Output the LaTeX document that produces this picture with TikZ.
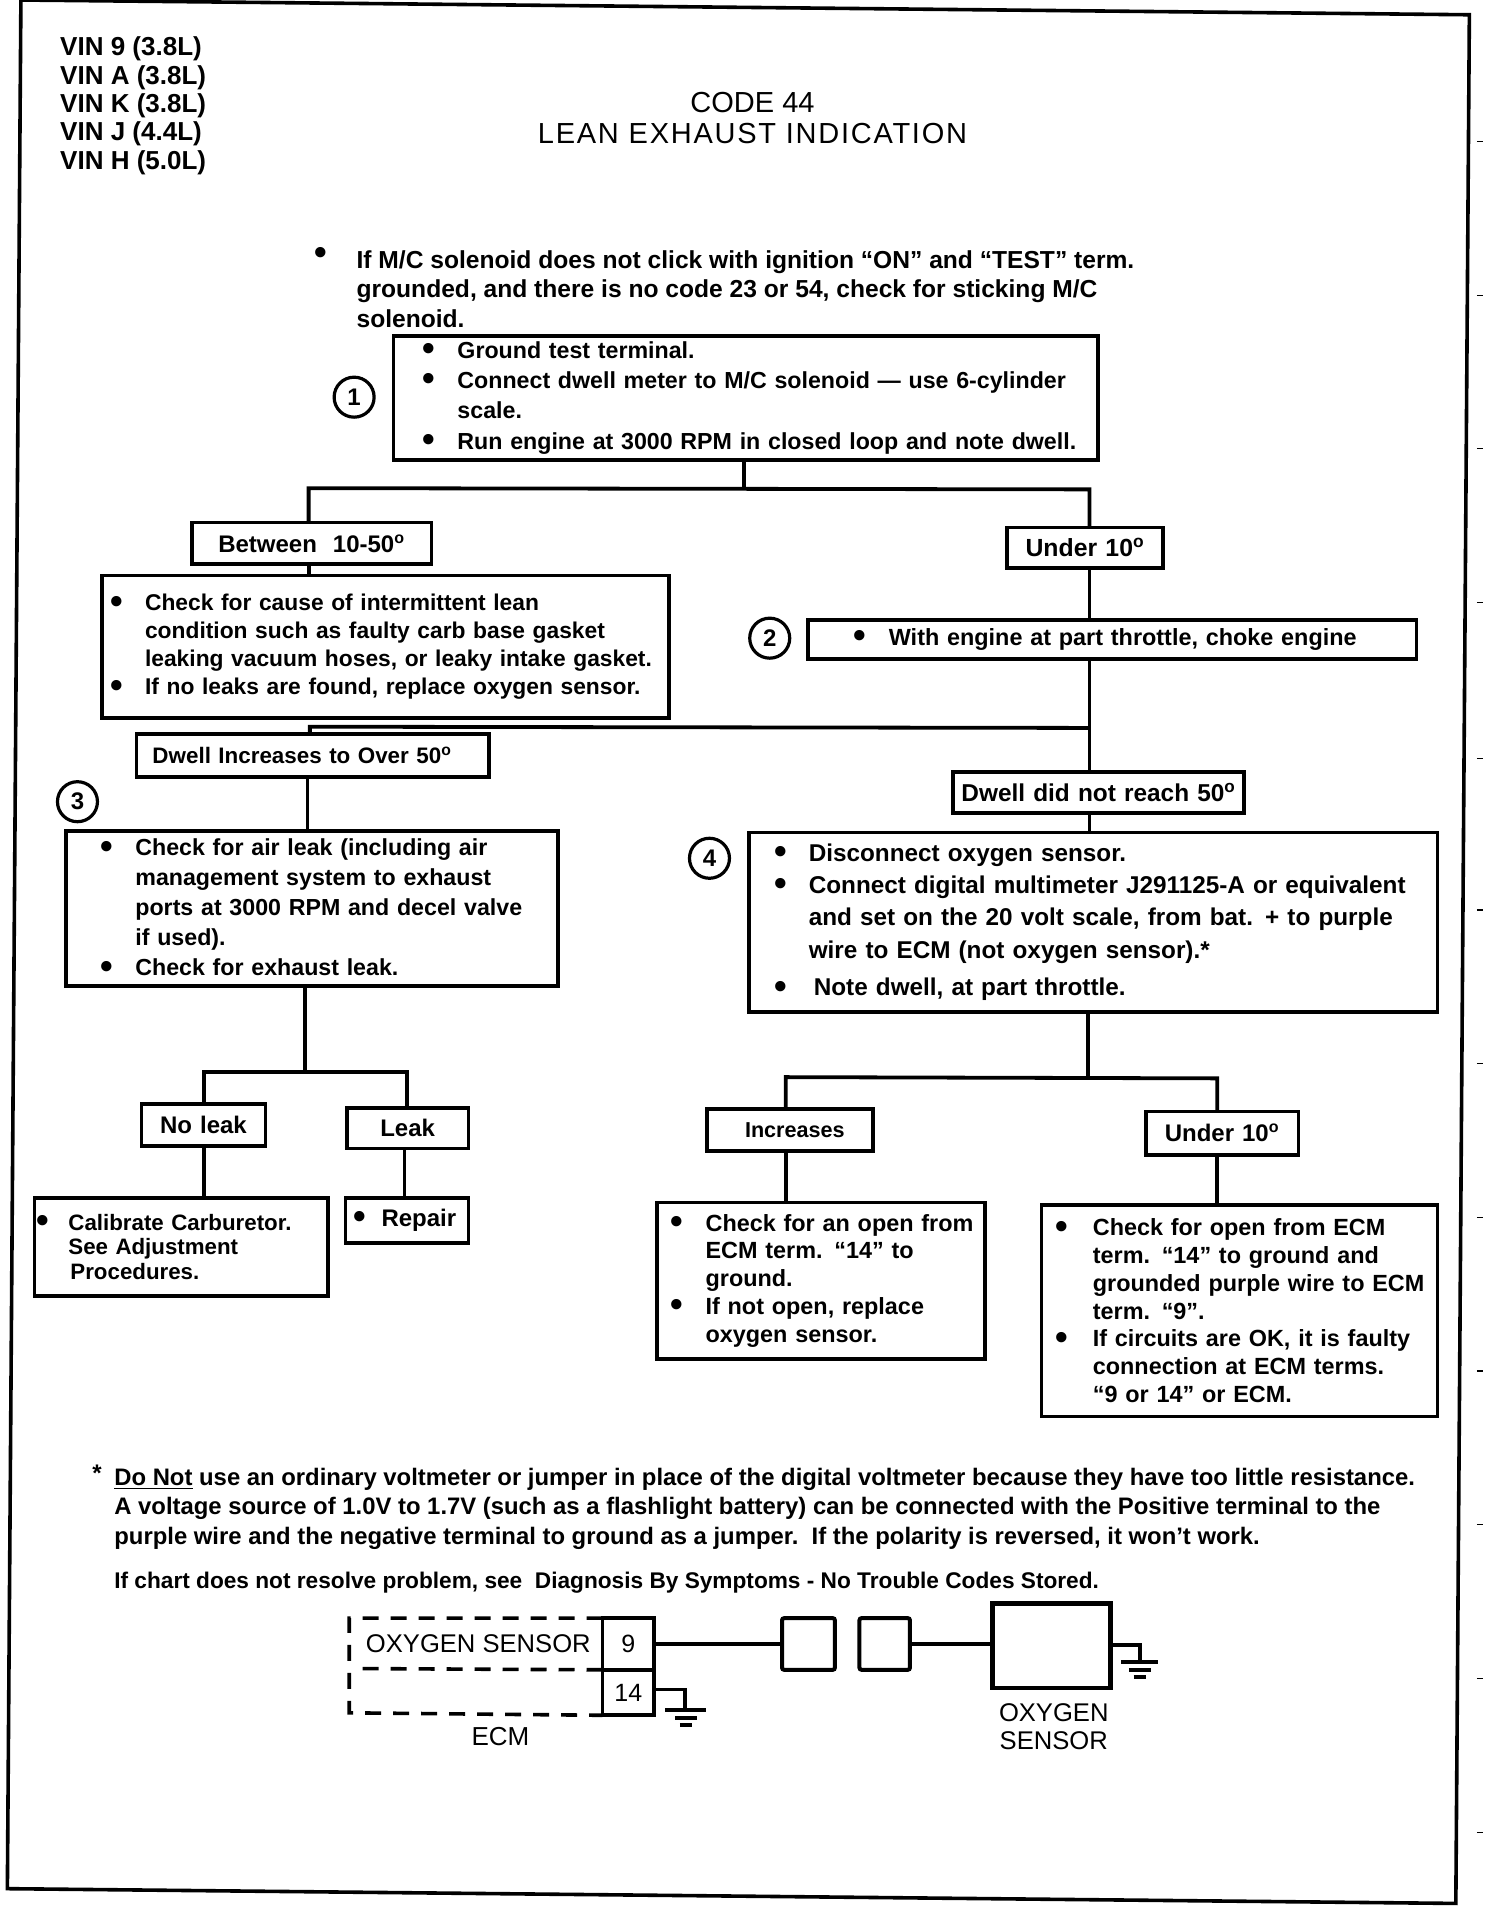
\documentclass[tikz,border=0pt]{standalone}
\usepackage{fontspec}
\setmainfont{Liberation Sans}
\newfontfamily\bodyf{Liberation Sans Bold}
\newcommand{\fs}[2]{\fontsize{#1}{#2}\selectfont}
\newcommand{\bul}{{\fontsize{18}{15}\selectfont\textbullet}}
\newcommand{\Bu}[3]{\makebox[0pt][l]{\hspace*{#1pt}\raisebox{-1.2pt}{\bul}}\makebox[0pt][l]{\hspace*{#1pt}\hspace*{#2pt}#3}}
\newcommand{\Tx}[3]{\makebox[0pt][l]{\hspace*{#1pt}\hspace*{#2pt}#3}}
\newcommand{\dg}{\textsuperscript{o}}
\tikzset{
 flowbox/.style={draw=black,line width=1.9pt,inner sep=0pt,outer sep=0pt,align=left,font=\bodyf\fs{12}{15}},
 lab/.style={flowbox,align=center},
 wire/.style={draw=black,line width=1.9pt},
 gnd/.style={draw=black,line width=2pt},
 dashw/.style={draw=black,line width=1.8pt,dash pattern=on 8pt off 6pt},
 num/.style={circle,draw=black,line width=1.6pt,minimum size=20pt,inner sep=0pt,font=\bodyf\fs{12}{12}},
 freetext/.style={inner sep=0pt,outer sep=0pt,anchor=west,align=left},
 tick/.style={draw=black,line width=0.6pt},
 frameline/.style={draw=black,line width=1.8pt},
 plug/.style={draw=black,line width=2pt,rounded corners=1pt,inner sep=0pt,outer sep=0pt}
}
\newcommand{\Bx}[7]{%
 \pgfmathsetmacro\cx{(#2+#4)/2}\pgfmathsetmacro\cy{(#3+#5)/2}%
 \pgfmathsetmacro\ww{(#4-#2)*0.6148}\pgfmathsetmacro\hh{(#5-#3)*0.6148}%
 \node[#6,minimum width=\ww pt,minimum height=\hh pt,text width=\ww pt] (#1) at (\cx,\cy) {#7};}
\begin{document}
\begin{tikzpicture}[x=0.6148pt,y=-0.6148pt]
\useasboundingbox (0,0) rectangle (1223,1568);
% page frame
\coordinate (fa) at (17,0);\coordinate (fb) at (1195,12);\coordinate (fc) at (1184,1548);\coordinate (fd) at (6,1536);
\path[frameline] (fa) -- (fb) -- (fc) -- (fd) -- cycle;
\foreach \yy in {115,240,365,490,617,740,865,990,1115,1240,1365,1490}{\path[tick] (1201,\yy) -- (1206,\yy);}
% header
\node[freetext,font=\bodyf\fs{13}{14.2}] (vin) at (49,86) {VIN 9 (3.8L)\\VIN A (3.8L)\\VIN K (3.8L)\\VIN J (4.4L)\\VIN H (5.0L)};
\node[inner sep=0pt,align=center,font=\fs{14.5}{15.6}] (title) at (612,96) {CODE 44\\\addfontfeature{LetterSpace=6}LEAN EXHAUST INDICATION};
\node[freetext,font=\bodyf\fs{12.3}{14.8}] (intro) at (290,235) {If M/C solenoid does not click with ignition “ON” and “TEST” term.\\grounded, and there is no code 23 or 54, check for sticking M/C\\solenoid.};
\node[inner sep=0pt,font=\bodyf\fs{18}{15}] (introb) at (261,208) {\textbullet};
% boxes
\Bx{b1}{320}{273}{893}{374}{flowbox,font=\bodyf\fs{11.6}{15.2}}{\Bu{14.5}{17.5}{Ground test terminal.}\\\Bu{14.5}{17.5}{Connect dwell meter to M/C solenoid — use 6-cylinder}\\\Tx{14.5}{17.5}{scale.}\\\Bu{14.5}{17.5}{Run engine at 3000 RPM in closed loop and note dwell.}}
\node[num] (n1) at (288,323) {1};
\Bx{between}{156}{425}{351}{459}{lab}{Between\ \ 10-50\dg}
\Bx{under}{819}{429}{946}{462}{lab,font=\bodyf\fs{12.4}{15}}{Under 10\dg}
\Bx{b2}{83}{468}{544}{584}{flowbox,font=\bodyf\fs{11.4}{14}}{\Bu{4}{17.5}{Check for cause of intermittent lean}\\\Tx{4}{17.5}{condition such as faulty carb base gasket}\\\Tx{4}{17.5}{leaking vacuum hoses, or leaky intake gasket.}\\\Bu{4}{17.5}{If no leaks are found, replace oxygen sensor.}}
\Bx{b3}{657}{504}{1152}{536}{flowbox,font=\bodyf\fs{11.7}{15}}{\Bu{23}{17.5}{With engine at part throttle, choke engine}}
\node[num] (n2) at (626,519) {2};
\Bx{incr}{111}{597}{398}{632}{flowbox,font=\bodyf\fs{11.2}{15}}{\Tx{0}{8}{Dwell Increases to Over 50\dg}}
\Bx{notr}{775}{628}{1012}{661}{lab,font=\bodyf\fs{12.2}{15}}{Dwell did not reach 50\dg}
\node[num] (n3) at (63,652) {3};
\Bx{b4}{54}{676}{454}{802}{flowbox,font=\bodyf\fs{11.6}{15}}{\Bu{17}{17.5}{Check for air leak (including air}\\\Tx{17}{17.5}{management system to exhaust}\\\Tx{17}{17.5}{ports at 3000 RPM and decel valve}\\\Tx{17}{17.5}{if used).}\\\Bu{17}{17.5}{Check for exhaust leak.}}
\node[num] (n4) at (577,698) {4};
\Bx{b5}{609}{677}{1169}{823}{flowbox,font=\bodyf\fs{12.15}{16.2}}{\Bu{13}{17}{Disconnect oxygen sensor.}\\\Bu{13}{17}{Connect digital multimeter J291125-A or equivalent}\\\Tx{13}{17}{and set on the 20 volt scale, from bat. + to purple}\\\Tx{13}{17}{wire to ECM (not oxygen sensor).*}\\[2.5pt]\Bu{13}{19.5}{Note dwell, at part throttle.}}
\Bx{noleak}{115}{898}{216}{932}{lab}{No leak}
\Bx{leak}{282}{901}{381}{934}{lab}{Leak}
\Bx{calib}{28}{974}{267}{1054}{flowbox,font=\bodyf\fs{11.15}{12.3}}{\Bu{1}{16}{Calibrate Carburetor.}\\\Tx{1}{16}{See Adjustment}\\\Tx{1}{17}{Procedures.}}
\Bx{repair}{281}{974}{381}{1011}{flowbox}{\Bu{4}{14}{Repair}}
\Bx{incs}{575}{902}{710}{936}{flowbox,font=\bodyf\fs{10.8}{15}}{\Tx{0}{19}{Increases}}
\Bx{und2}{932}{904}{1056}{939}{lab}{Under 10\dg}
\Bx{b6}{534}{978}{801}{1105}{flowbox,font=\bodyf\fs{11.7}{13.9}}{\Bu{7}{17.5}{Check for an open from}\\\Tx{7}{17.5}{ECM term. “14” to}\\\Tx{7}{17.5}{ground.}\\\Bu{7}{17.5}{If not open, replace}\\\Tx{7}{17.5}{oxygen sensor.}}
\Bx{b7}{847}{980}{1169}{1152}{flowbox,font=\bodyf\fs{11.7}{13.9}}{\Bu{7}{18.7}{Check for open from ECM}\\\Tx{7}{18.7}{term. “14” to ground and}\\\Tx{7}{18.7}{grounded purple wire to ECM}\\\Tx{7}{18.7}{term. “9”.}\\\Bu{7}{18.7}{If circuits are OK, it is faulty}\\\Tx{7}{18.7}{connection at ECM terms.}\\\Tx{7}{18.7}{“9 or 14” or ECM.}}
% connectors
\coordinate (j1) at (605,398);\coordinate (j1l) at (251,397);\coordinate (j1r) at (886,398);
\draw[wire] (b1.south -| j1) -- (j1);
\draw[wire] (between.north -| j1l) -- (j1l) -- (j1r) -- (under.north -| j1r);
\draw[wire] (between.south -| j1l) -- (b2.north -| j1l);
\draw[wire] (under.south -| j1r) -- (b3.north -| j1r);
\coordinate (j2) at (886,592);\coordinate (j2l) at (252,591);
\draw[wire] (b3.south -| j2) -- (notr.north -| j2);
\draw[wire] (j2) -- (j2l) -- (incr.north -| j2l);
\coordinate (j3) at (250,640);
\draw[wire] (incr.south -| j3) -- (b4.north -| j3);
\draw[wire] (notr.south -| j2) -- (b5.north -| j2);
\coordinate (j4) at (248,872);\coordinate (j4l) at (166,872);\coordinate (j4r) at (331,872);
\draw[wire] (b4.south -| j4) -- (j4);
\draw[wire] (noleak.north -| j4l) -- (j4l) -- (j4r) -- (leak.north -| j4r);
\draw[wire] (noleak.south -| j4l) -- (calib.north -| j4l);
\coordinate (j4m) at (329,950);
\draw[wire] (leak.south -| j4m) -- (repair.north -| j4m);
\coordinate (j5) at (885,877);\coordinate (j5l) at (639,876);\coordinate (j5r) at (990,877);
\draw[wire] (b5.south -| j5) -- (j5);
\draw[wire] (incs.north -| j5l) -- (j5l) -- (j5r) -- (und2.north -| j5r);
\draw[wire] (incs.south -| j5l) -- (b6.north -| j5l);
\draw[wire] (und2.south -| j5r) -- (b7.north -| j5r);
% footnote
\node[inner sep=0pt,font=\bodyf\fs{12}{12}] (star) at (79,1198) {*};
\node[freetext,font=\bodyf\fs{11.93}{14.7}] (foot) at (93,1227) {\underline{Do Not} use an ordinary voltmeter or jumper in place of the digital voltmeter because they have too little resistance.\\A voltage source of 1.0V to 1.7V (such as a flashlight battery) can be connected with the Positive terminal to the\\purple wire and the negative terminal to ground as a jumper.\ \ If the polarity is reversed, it won’t work.};
\node[freetext,font=\bodyf\fs{11.33}{14.7}] (chart) at (93,1287) {If chart does not resolve problem, see\ \ Diagnosis By Symptoms - No Trouble Codes Stored.};
% wiring diagram
\coordinate (e1) at (284,1316);\coordinate (e2) at (284,1393);\coordinate (e3) at (290,1357);
\Bx{c9}{490}{1316}{532}{1358}{lab,font=\fs{12.5}{13}}{9}
\Bx{c14}{490}{1358}{532}{1395}{lab,font=\fs{12.5}{13}}{14}
\draw[dashw] (c9.north west) -- (e1) -- (e2) -- (c14.south west);
\draw[dashw] (c9.south west) -- (e3);
\node[inner sep=0pt,font=\fs{12.8}{14}] (oxy) at (389,1337) {OXYGEN SENSOR};
\node[inner sep=0pt,font=\fs{13}{14}] (ecm) at (407,1412) {ECM};
\node[plug,minimum width=26.4pt,minimum height=25.8pt] (p1) at (657.5,1337) {};
\node[plug,minimum width=25.2pt,minimum height=25.8pt] (p2) at (719.5,1337) {};
\node[draw=black,line width=2.2pt,minimum width=59pt,minimum height=42.4pt,inner sep=0pt,outer sep=0pt] (sens) at (855,1338.5) {};
\node[inner sep=0pt,align=center,font=\fs{12.8}{13.9}] (sl) at (857,1404) {OXYGEN\\SENSOR};
\draw[wire] (c9.east) -- (p1.west);
\coordinate (w2) at (770,1337);
\draw[wire] (p2.east) -- (sens.west |- w2);
\coordinate (g1) at (927,1338);\coordinate (g1b) at (927,1352);
\draw[wire] (sens.east |- g1) -- (g1) -- (g1b);
\draw[gnd] (912,1352) -- (942,1352);\draw[gnd] (918,1358) -- (936,1358);\draw[gnd] (922,1364) -- (932,1364);
\coordinate (g2) at (557,1374);\coordinate (g2b) at (557,1391);
\draw[wire] (c14.east |- g2) -- (g2) -- (g2b);
\draw[gnd] (541,1391) -- (574,1391);\draw[gnd] (549,1397) -- (567,1397);\draw[gnd] (553,1403) -- (563,1403);
\end{tikzpicture}
\end{document}
